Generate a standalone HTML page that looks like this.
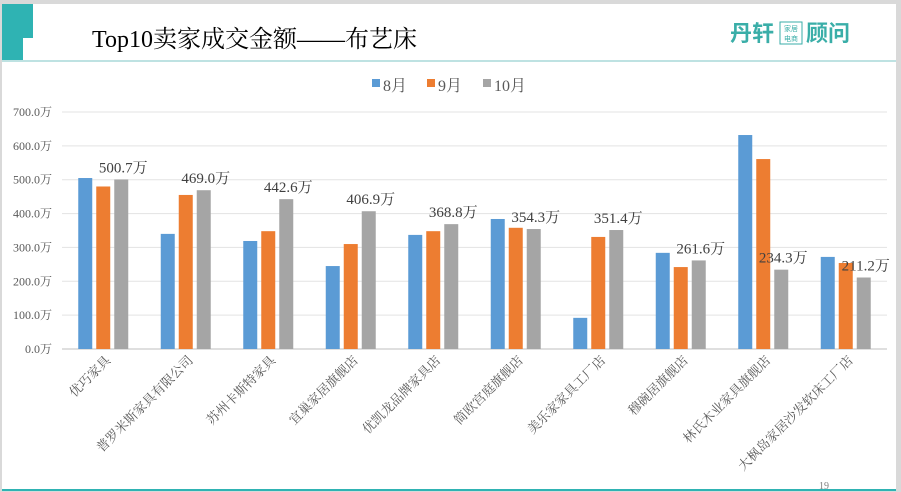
<!DOCTYPE html>
<html><head><meta charset="utf-8"><style>
body{margin:0;width:901px;height:492px;overflow:hidden;background:#d9d9d9;}
#slide{position:absolute;left:2px;top:4px;width:894px;height:486px;background:#fff;}
</style></head><body>
<div id="slide"></div>
<svg id="c" width="901" height="492" style="position:absolute;left:0;top:0"></svg>
<script>
const categories=["优巧家具","普罗米斯家具有限公司","苏州卡斯特家具","宜巢家居旗舰店","优凯龙品牌家具店","简欧宫庭旗舰店","美乐家家具工厂店","穆碗居旗舰店","林氏木业家具旗舰店","大枫岛家居沙发软床工厂店"];
const aug=[505,340,319,245,337,384,92,284,632,272];
const sep=[480,455,348,310,348,358,331,242,561,254];
const oct=[500.7,469.0,442.6,406.9,368.8,354.3,351.4,261.6,234.3,211.2];
const yTicks=[0,100,200,300,400,500,600,700];
const seriesNames=["8月","9月","10月"];
const colors=["#5b9bd5","#ed7d31","#a5a5a5"];
const svg=document.getElementById('c');const NS="http://www.w3.org/2000/svg";
function mk(t,a,p){const e=document.createElementNS(NS,t);for(const k in a)e.setAttribute(k,a[k]);(p||svg).appendChild(e);return e;}
const x0=62,x1=887,y0=349,yTop=112,vmax=700;
const y=v=>y0-(v/vmax)*(y0-yTop);
const gw=(x1-x0)/categories.length;
const gx=i=>x0+gw*(i+0.5);
const serif='"Liberation Serif","Noto Serif CJK SC",serif';
let e;
e=mk('rect',{x:2,y:4,width:31,height:34,fill:'#2fb3b3'});
e=mk('rect',{x:2,y:38,width:21,height:22,fill:'#2fb3b3'});
e=mk('line',{x1:2,x2:896,y1:61,y2:61,stroke:'#a8d8d8','stroke-width':1.5});
e=mk('line',{x1:2,x2:896,y1:490,y2:490,stroke:'#2fb3b3','stroke-width':2});
e=mk('text',{x:92,y:47,'font-size':24,'font-family':serif,fill:'#000'});e.textContent='Top10卖家成交金额——布艺床';
e=mk('text',{x:730,y:41,'font-size':22,'font-weight':'bold','font-family':'"Noto Sans CJK SC",sans-serif',fill:'#3aaea8'});e.textContent='丹轩';
e=mk('rect',{x:780,y:22,width:22,height:22,fill:'none',stroke:'#3aaea8'});
e=mk('text',{x:791,y:31,'font-size':7,'text-anchor':'middle','font-family':'"Noto Sans CJK SC",sans-serif',fill:'#3aaea8'});e.textContent='家居';
e=mk('text',{x:791,y:41,'font-size':7,'text-anchor':'middle','font-family':'"Noto Sans CJK SC",sans-serif',fill:'#3aaea8'});e.textContent='电商';
e=mk('text',{x:806,y:41,'font-size':22,'font-weight':'bold','font-family':'"Noto Sans CJK SC",sans-serif',fill:'#3aaea8'});e.textContent='顾问';
const lx=[372,427,483];
seriesNames.forEach((n,k)=>{
 const r=mk('rect',{x:lx[k],y:79,width:8,height:8,fill:colors[k]});
 const t=mk('text',{x:lx[k]+11,y:91,'font-size':16,'font-family':serif,fill:'#595959'});t.textContent=n;
});
yTicks.forEach(v=>{
 const l=mk('line',{x1:x0,x2:x1,y1:y(v),y2:y(v),stroke:v===0?'#bfbfbf':'#e3e3e3','stroke-width':1});
 const t=mk('text',{x:52,y:y(v)+4,'font-size':12,'text-anchor':'end','font-family':serif,fill:'#595959'});t.textContent=v.toFixed(1)+'万';
});
const series=[aug,sep,oct];const bw=14,gap=4;
categories.forEach((c,i)=>{
 series.forEach((s,k)=>{
  const bx=gx(i)+(k-1)*(bw+gap)-bw/2;
  const r=mk('rect',{x:bx,y:y(s[i]),width:bw,height:y0-y(s[i]),fill:colors[k]});
  
  
 });
 const t=mk('text',{x:gx(i)+20,y:y(oct[i])-7,'font-size':15,'text-anchor':'middle','font-family':serif,fill:'#404040'});
 t.textContent=oct[i].toFixed(1)+'万';
 
 
 const lb=mk('text',{x:0,y:0,'font-size':13,'text-anchor':'end','font-family':serif,fill:'#595959',transform:`translate(${gx(i)+8},${y0+12}) rotate(-45)`});
 lb.textContent=c;
 
 
});
e=mk('text',{x:824,y:489,'font-size':10,'text-anchor':'middle','font-family':serif,fill:'#808080'});e.textContent='19';
</script>
</body></html>
